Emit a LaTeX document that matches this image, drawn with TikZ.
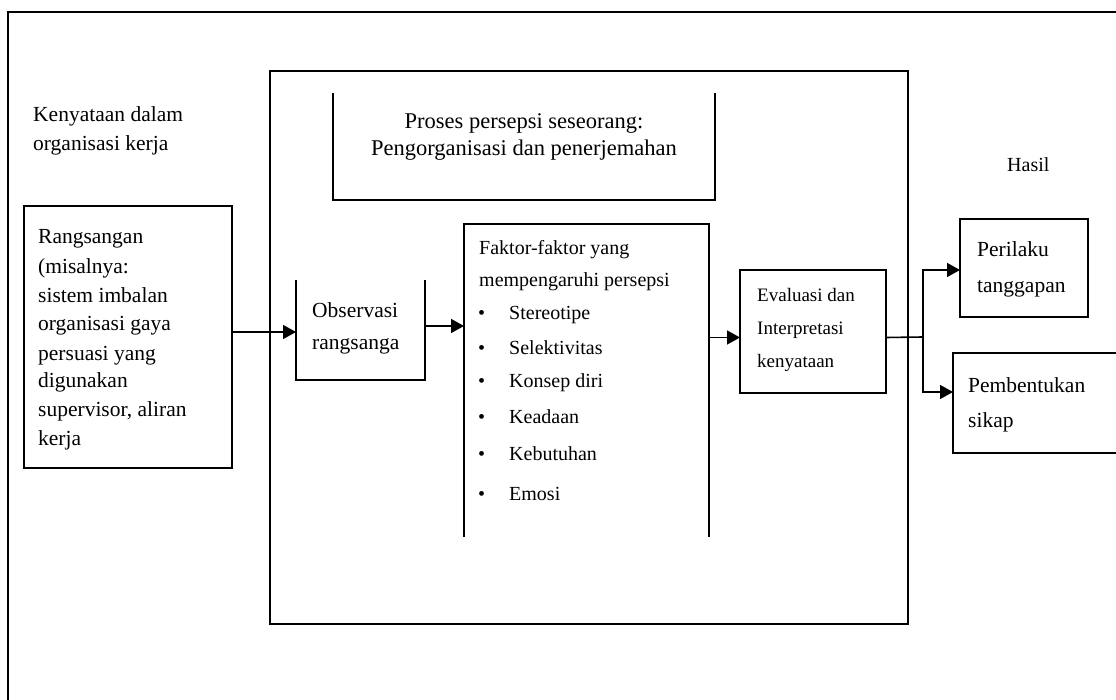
\documentclass[tikz,border=0pt]{standalone}
\usepackage{fontspec}
\setmainfont{Liberation Serif}
\usetikzlibrary{arrows.meta}
\begin{document}
\begin{tikzpicture}[x=1pt,y=-1pt,
  frame/.style={draw=black, line width=1.6pt, line join=miter},
  area/.style={inner sep=0pt, outer sep=0pt, anchor=north west},
  lbl/.style={anchor=base west, inner sep=0pt, font=\fontsize{21.5}{24}\selectfont},
  lblf/.style={anchor=base west, inner sep=0pt, font=\fontsize{20}{24}\selectfont},
  lble/.style={anchor=base west, inner sep=0pt, font=\fontsize{19}{22}\selectfont},
  lblt/.style={anchor=base, inner sep=0pt, font=\fontsize{22.5}{26}\selectfont},
  conn/.style={line width=1.6pt, -{Triangle[length=13pt,width=14pt]}},
  plain/.style={line width=1.6pt}]
\useasboundingbox (0,0) rectangle (1116,700);

% outer frame (open right and bottom)
\draw[frame] (1116,12) -- (8,12) -- (8,700);

% areas
\node[area, minimum width=638pt, minimum height=553pt] (main) at (270,71) {};
\node[area, minimum width=382pt, minimum height=107pt] (title) at (333,93) {};
\node[area, minimum width=208pt, minimum height=262pt] (rang) at (24,206) {};
\node[area, minimum width=129pt, minimum height=100pt] (obs) at (296,280) {};
\node[area, minimum width=245pt, minimum height=313pt] (fak) at (464,224) {};
\node[area, minimum width=146pt, minimum height=123pt] (eval) at (740,270) {};
\node[area, minimum width=128pt, minimum height=98pt] (per) at (960,219) {};
\node[area, minimum width=170pt, minimum height=100pt] (pem) at (953,353) {};

% borders
\draw[frame] (main.north west) rectangle (main.south east);
\draw[frame] (title.north west) -- (title.south west) -- (title.south east) -- (title.north east);
\draw[frame] (rang.north west) rectangle (rang.south east);
\draw[frame] (obs.north west) -- (obs.south west) -- (obs.south east) -- (obs.north east);
\draw[frame] (fak.south west) -- (fak.north west) -- (fak.north east) -- (fak.south east);
\draw[frame] (eval.north west) rectangle (eval.south east);
\draw[frame] (per.north west) rectangle (per.south east);
\draw[frame] (1116,353) -- (pem.north west) -- (pem.south west) -- (1116,453);

% texts
\node[lbl] (k1) at (33,122) {Kenyataan dalam};
\node[lbl] (k2) at (33,151) {organisasi kerja};

\node[lblt] (t1) at (524,129) {Proses persepsi seseorang:};
\node[lblt] (t2) at (524,156) {Pengorganisasi dan penerjemahan};

\node[lbl] (r1) at (38,244) {Rangsangan};
\node[lbl] (r2) at (38,274) {(misalnya:};
\node[lbl] (r3) at (38,303) {sistem imbalan};
\node[lbl] (r4) at (38,331) {organisasi gaya};
\node[lbl] (r5) at (38,360) {persuasi yang};
\node[lbl] (r6) at (38,388) {digunakan};
\node[lbl] (r7) at (38,416) {supervisor, aliran};
\node[lbl] (r8) at (38,445) {kerja};

\node[lbl] (o1) at (312,318) {Observasi};
\node[lbl] (o2) at (312,350) {rangsanga};

\node[lblf] (f1) at (479,255) {Faktor-faktor yang};
\node[lblf] (f2) at (479,287) {mempengaruhi persepsi};
\foreach \n/\yy/\txt in {b1/320/Stereotipe, b2/355/Selektivitas, b3/387/Konsep diri, b4/423/Keadaan, b5/460/Kebutuhan, b6/500/Emosi}{
  \node[lblf] (\n) at (509,\yy) {\txt};
  \node[lblf] (\n d) at (478,\yy) {•};
}

\node[lble] (e1) at (757,302) {Evaluasi dan};
\node[lble] (e2) at (757,335) {Interpretasi};
\node[lble] (e3) at (757,367) {kenyataan};

\node[lblf] (h) at (1007,172) {Hasil};
\node[lbl] (p1) at (977,257) {Perilaku};
\node[lbl] (p2) at (977,293) {tanggapan};
\node[lbl] (s1) at (968,392) {Pembentukan};
\node[lbl] (s2) at (968,427) {sikap};

% connectors
\draw[conn] ([yshift=5pt]rang.east) -- ([yshift=5pt]rang.east -| obs.west);
\draw[conn] ([yshift=4pt]obs.east) -- ([yshift=4pt]obs.east -| fak.west);
\draw[conn] ([yshift=-6pt]eval.west -| fak.east) -- ([yshift=-6pt]eval.west);
\coordinate (br) at (923,337);
\draw[plain] ([yshift=-6pt]eval.east) -- (br);
\draw[conn] (br) |- ([yshift=-2pt]per.west);
\draw[conn] (br) |- ([yshift=11pt]pem.west);
\end{tikzpicture}
\end{document}
